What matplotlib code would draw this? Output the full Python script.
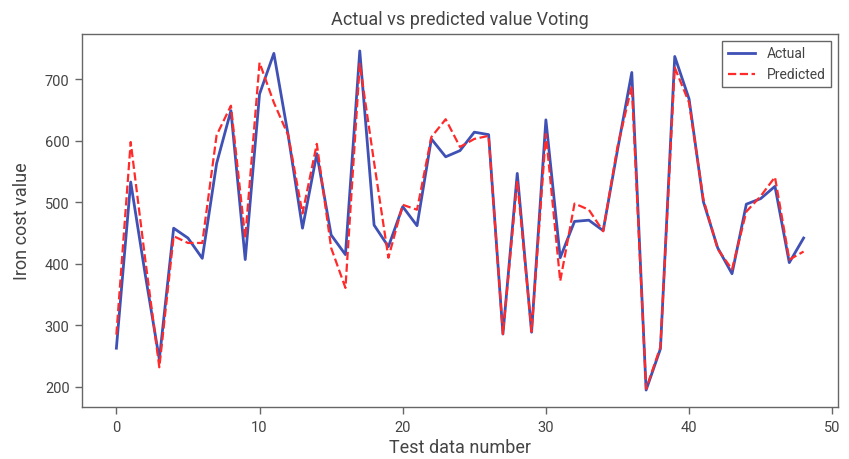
import matplotlib
matplotlib.use("Agg")
import matplotlib.pyplot as plt

# values
test_index = list(range(49))
actual = [263, 533, 385, 245, 458, 442, 409, 563, 649, 407,
          676, 742, 609, 458, 579, 447, 415, 746, 463, 428,
          493, 462, 603, 574, 584, 614, 610, 286, 547, 289,
          634, 410, 469, 471, 454, 585, 711, 195, 262, 737,
          668, 501, 426, 384, 497, 506, 526, 402, 442]
predicted = [285, 598, 410, 232, 445, 434, 434, 609, 657, 442,
             727, 662, 609, 482, 595, 426, 361, 725, 565, 410,
             496, 488, 606, 635, 590, 603, 608, 286, 535, 290,
             611, 372, 498, 488, 453, 590, 689, 197, 265, 719,
             662, 505, 424, 391, 485, 510, 541, 407, 420]

plt.rcParams['font.family'] = ['Roboto', 'DejaVu Sans']
text_color = '#444444'
spine_color = '#666666'

fig = plt.figure(figsize=(8.49, 4.60), dpi=100)
ax = fig.add_axes([0.0966, 0.113, 0.8904, 0.811])

ax.plot(test_index, actual, '-', color='#3f51b5', lw=2, label='Actual')
ax.plot(test_index, predicted, '--', color='#ff2a2a', lw=1.6, label='Predicted')

ax.set_title('Actual vs predicted value Voting', fontsize=13, color=text_color, pad=7)
ax.set_xlabel('Test data number', fontsize=13, color=text_color, labelpad=3)
ax.set_ylabel('Iron cost value', fontsize=13, color=text_color, labelpad=10)
ax.set_xticks([0, 10, 20, 30, 40, 50])
ax.set_yticks([200, 300, 400, 500, 600, 700])
ax.tick_params(direction='out', length=5, width=1, color=spine_color,
               labelcolor=text_color, labelsize=10.5, pad=4)
for s in ax.spines.values():
    s.set_color(spine_color)
    s.set_linewidth(1)

leg = ax.legend(loc='upper right', fontsize=10, fancybox=False,
                edgecolor=spine_color, framealpha=1)
for t in leg.get_texts():
    t.set_color(text_color)

fig.savefig('out.png', dpi=100)
